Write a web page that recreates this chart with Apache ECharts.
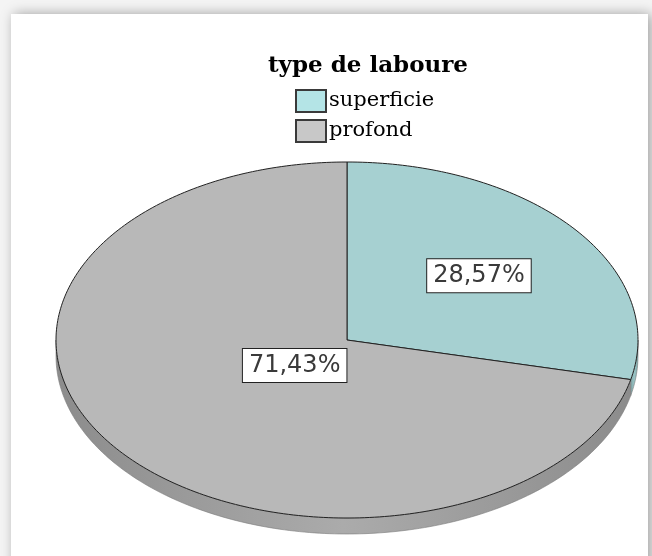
<!DOCTYPE html>
<html>
<head>
<meta charset="utf-8">
<script src="https://cdn.jsdelivr.net/npm/echarts@6/dist/echarts.min.js"></script>
<style>
  html, body { margin: 0; padding: 0; background: #f4f4f4; }
  #chart-container { width: 652px; height: 556px; }
</style>
</head>
<body>
<div id="chart-container"></div>
<script>
// data
const titleText = 'type de laboure'
const categories = ['superficie', 'profond']
const percents = [28.57, 71.43]

// styles
const topColors = ['#a6d0d1', '#b8b8b8']
const sideColors = [['#7fa9aa', '#99c3c4'], ['#8c8c8c', '#ababab']]
const legendColors = ['#b4e4e6', '#c8c8c8']
const labelRatio = [0.58, 0.23]

// ellipse layout
const CX = 347, CY = 340, RX = 291, RY = 178, DEPTH = 16

const total = percents.reduce((a, b) => a + b, 0)
const startAngle = (i) => percents.slice(0, i).reduce((a, b) => a + b, 0) / total * Math.PI * 2

const pt = (theta, dy) => [CX + RX * Math.sin(theta), CY - RY * Math.cos(theta) + (dy || 0)]

const arc = (a, b, dy) => {
    const pts = []
    const n = Math.max(2, Math.ceil((b - a) / (Math.PI / 180)))
    for (let k = 0; k <= n; k++) pts.push(pt(a + (b - a) * k / n, dy))
    return pts
}

const renderSlice = (i, api) => {
    const a = startAngle(i)
    const b = a + api.value(0) / total * Math.PI * 2
    const children = []

    // visible side of the disc (lower half)
    const sa = Math.max(a, Math.PI / 2), sb = Math.min(b, Math.PI * 3 / 2)
    if (sa < sb) {
        const pts = arc(sa, sb, 0).concat(arc(sa, sb, DEPTH).reverse())
        children.push({
            type: 'polygon',
            z2: 1,
            shape: { points: pts },
            style: {
                fill: new echarts.graphic.LinearGradient(0, 0, 1, 0, [
                    { offset: 0, color: sideColors[i][0] },
                    { offset: 0.5, color: sideColors[i][1] },
                    { offset: 1, color: sideColors[i][0] }
                ]),
                stroke: '#7a7a7a',
                lineWidth: 0.6
            }
        })
    }

    // top face
    children.push({
        type: 'polygon',
        z2: 10,
        shape: { points: [[CX, CY]].concat(arc(a, b, 0)) },
        style: { fill: topColors[i], stroke: '#222', lineWidth: 1 }
    })

    // value label
    const mid = (a + b) / 2
    const r = labelRatio[i]
    children.push({
        type: 'text',
        z2: 20,
        x: CX + RX * r * Math.sin(mid),
        y: CY - RY * r * Math.cos(mid),
        style: {
            text: api.value(0).toFixed(2).replace('.', ',') + '%',
            font: '24px "DejaVu Sans"',
            fill: '#3a3a3a',
            align: 'center',
            verticalAlign: 'middle',
            backgroundColor: '#fff',
            borderColor: '#222',
            borderWidth: 1,
            padding: [5, 6, 4, 6]
        }
    })

    return { type: 'group', children }
}

const myChart = echarts.init(document.getElementById('chart-container'))

const option = {
    animation: false,
    graphic: [{
        type: 'rect',
        z: -10,
        shape: { x: 11, y: 14, width: 637, height: 600 },
        style: {
            fill: '#fff',
            shadowBlur: 12,
            shadowColor: 'rgba(0,0,0,0.35)',
            shadowOffsetX: 3
        }
    }],
    title: {
        text: titleText,
        left: 268,
        top: 55,
        padding: 0,
        textStyle: {
            fontFamily: 'DejaVu Serif',
            fontWeight: 'bold',
            fontSize: 23,
            color: '#000'
        }
    },
    legend: {
        orient: 'vertical',
        left: 295,
        top: 89,
        padding: 0,
        icon: 'rect',
        itemWidth: 30,
        itemHeight: 22,
        itemGap: 6,
        selectedMode: false,
        textStyle: {
            fontFamily: 'DejaVu Serif',
            fontSize: 21,
            color: '#000',
            padding: [0, 0, 0, -2]
        },
        data: categories.map((name, i) => ({
            name,
            itemStyle: { color: legendColors[i], borderColor: '#3a3a3a', borderWidth: 2 }
        }))
    },
    series: categories.map((name, i) => ({
        type: 'custom',
        name,
        coordinateSystem: 'none',
        itemStyle: { color: legendColors[i] },
        data: [percents[i]],
        renderItem: (params, api) => renderSlice(i, api)
    }))
}

option && myChart.setOption(option)
</script>
</body>
</html>
